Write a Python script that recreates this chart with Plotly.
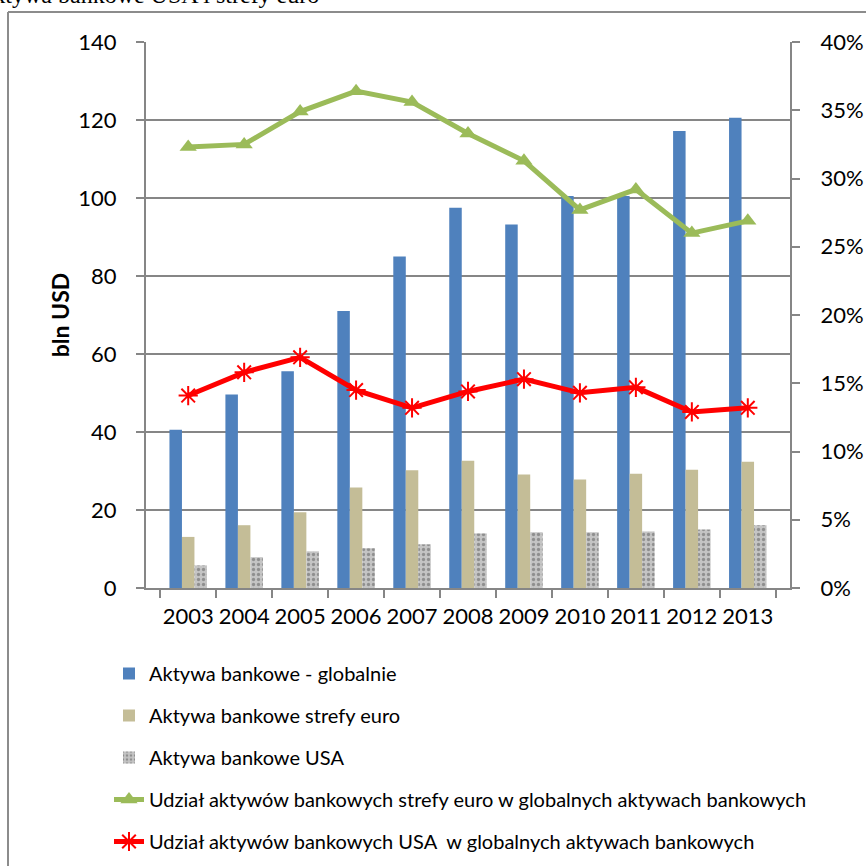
import plotly.graph_objects as go

years = ["2003", "2004", "2005", "2006", "2007", "2008", "2009", "2010", "2011", "2012", "2013"]
global_assets = [40.6, 49.6, 55.6, 71.0, 85.0, 97.5, 93.2, 100.5, 100.5, 117.2, 120.6]
euro_assets = [13.1, 16.1, 19.4, 25.8, 30.2, 32.6, 29.1, 27.8, 29.3, 30.3, 32.4]
usa_assets = [5.8, 7.9, 9.4, 10.2, 11.2, 14.0, 14.3, 14.3, 14.5, 15.0, 16.1]
euro_share = [0.323, 0.325, 0.349, 0.364, 0.356, 0.333, 0.313, 0.277, 0.292, 0.260, 0.269]
usa_share = [0.141, 0.158, 0.169, 0.145, 0.132, 0.144, 0.153, 0.143, 0.147, 0.129, 0.132]

names = [
    "Aktywa bankowe - globalnie",
    "Aktywa bankowe strefy euro",
    "Aktywa bankowe USA",
    "Udział aktywów bankowych strefy euro w globalnych aktywach bankowych",
    "Udział aktywów bankowych USA  w globalnych aktywach bankowych",
]
title_text = "Aktywa bankowe USA i strefy euro"

W, H = 866, 866
L, R, T, B = 146, 76, 42, 278
PW, PH = W - L - R, H - T - B


def px(x):
    return (x - L) / PW


def py(y):
    return (H - B - y) / PH


FONT = "Lato"
GRID = "#868686"

fig = go.Figure()
fig.add_trace(go.Bar(x=years, y=global_assets, name=names[0], marker=dict(color="#4F81BD", line=dict(width=0)),
                     legendgroup="a"))
fig.add_trace(go.Bar(x=years, y=euro_assets, name=names[1], marker=dict(color="#C4BD97", line=dict(width=0)),
                     legendgroup="b"))
fig.add_trace(go.Bar(x=years, y=usa_assets, name=names[2],
                     marker=dict(color="#B4B4B4", line=dict(width=0),
                                 pattern=dict(shape=".", fgcolor="#5a5a5a", bgcolor="#c4c4c4", size=5, solidity=0.35)),
                     legendgroup="c"))
fig.add_trace(go.Scatter(x=years, y=euro_share, name=names[3], yaxis="y2", mode="lines+markers",
                         line=dict(color="#9BBB59", width=5),
                         marker=dict(symbol="triangle-up", size=15, color="#9BBB59"),
                         legendgroup="d"))
fig.add_trace(go.Scatter(x=years, y=usa_share, name=names[4], yaxis="y2", mode="lines+markers",
                         line=dict(color="#FF0000", width=5),
                         marker=dict(symbol="asterisk-open", size=16, color="#FF0000", line=dict(color="#FF0000", width=2)),
                         legendgroup="e"))

fig.update_layout(
    width=W, height=H,
    margin=dict(l=L, r=R, t=T, b=B, autoexpand=False),
    paper_bgcolor="white", plot_bgcolor="white",
    barmode="group", bargap=0.33, bargroupgap=0,
    font=dict(family=FONT, color="black"),
    showlegend=True,
    legend=dict(x=px(109), y=py(654), xanchor="left", yanchor="top",
                font=dict(family=FONT, size=20, color="black"),
                traceorder="grouped", tracegroupgap=13, itemwidth=30,
                bgcolor="rgba(0,0,0,0)"),
    xaxis=dict(type="category", showline=True, linecolor=GRID, linewidth=2, ticks="outside",
               tickson="boundaries", ticklen=8, tickcolor=GRID, tickwidth=2, tickangle=0,
               tickfont=dict(family=FONT, size=22), ticklabelstandoff=8),
    yaxis=dict(range=[0, 140], dtick=20, showline=True, linecolor=GRID, linewidth=2, ticks="outside",
               ticklen=8, tickcolor=GRID, tickwidth=2, showgrid=True, gridcolor=GRID, gridwidth=2,
               zeroline=False, tickfont=dict(family=FONT, size=22), ticklabelstandoff=15,
               title=dict(text="<b>bln USD</b>", font=dict(family=FONT, size=23), standoff=2)),
    yaxis2=dict(range=[0, 0.4], dtick=0.05, tickformat=".0%", overlaying="y", side="right",
                showline=True, linecolor=GRID, linewidth=2, ticks="outside", ticklen=8,
                tickcolor=GRID, tickwidth=2, showgrid=False, zeroline=False,
                tickfont=dict(family=FONT, size=22), ticklabelstandoff=16),
    shapes=[
        dict(type="line", xref="paper", yref="paper", x0=px(8), x1=px(8), y0=py(12), y1=py(900),
             line=dict(color="#8c8c8c", width=2)),
        dict(type="line", xref="paper", yref="paper", x0=px(8), x1=px(900), y0=py(12), y1=py(12),
             line=dict(color="#8c8c8c", width=2)),
    ],
    annotations=[
        dict(text=title_text, xref="paper", yref="paper", x=px(321), y=py(10), xanchor="right",
             yanchor="bottom", showarrow=False, font=dict(family="Liberation Serif", size=24, color="black")),
    ],
)

fig.write_html("out.html", config={"displayModeBar": False},
               post_script="document.body.style.margin='0';document.body.style.overflow='hidden';")
